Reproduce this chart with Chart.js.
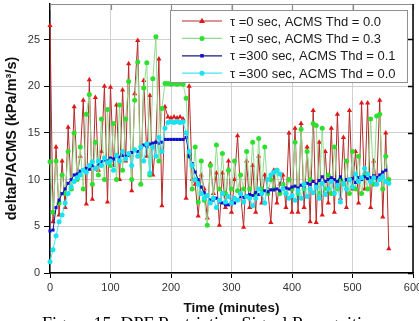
<!DOCTYPE html>
<html>
<head>
<meta charset="utf-8">
<script src="https://cdn.jsdelivr.net/npm/chart.js@4"></script>
<style>
  body { margin: 0; background: #fff; }
  #wrap { width: 419px; height: 321px; }
</style>
</head>
<body>
<div id="wrap"><canvas id="dpf-chart"></canvas></div>
<script>
// time axis (minutes), one sample every 5 min
let times = [];
for (let t = 0; t <= 560; t += 5) times.push(t);

// tau = 0 sec, ACMS Thd = 0.0
let red = [
    26.5, 5.5, 13.5, 6.2, 12.0, 7.0, 15.6, 9.0, 17.8, 10.5,
    12.5, 18.5, 7.4, 20.7, 7.9, 18.8, 11.0, 13.0, 20.0, 7.6,
    19.9, 11.5, 18.0, 10.0, 19.6, 12.0, 22.4, 8.8, 19.2, 24.9,
    9.6, 20.6, 12.5, 19.0, 10.5, 14.0, 22.9, 7.2, 17.8, 16.7,
    16.6, 16.7, 16.6, 16.7, 16.5, 8.0, 20.0, 10.0, 9.5, 6.1,
    10.5, 9.0, 5.9, 11.7, 8.5, 10.7, 5.1, 10.7, 7.0, 12.0,
    6.5, 10.0, 14.7, 8.5, 4.9, 12.0, 7.0, 11.5, 6.5, 12.5,
    7.5, 10.5, 9.0, 5.4, 11.0, 7.5, 9.5, 10.5, 7.0, 15.0,
    6.5, 15.5, 6.5, 16.0, 7.0, 13.5, 5.5, 17.4, 5.4, 14.0,
    6.2, 13.0, 7.5, 15.5, 6.5, 17.0, 8.0, 14.5, 7.0, 17.4,
    9.0, 13.0, 7.5, 18.2, 9.0, 18.2, 7.0, 12.0, 9.5, 18.5,
    6.0, 15.0, 2.6
];

// tau = 0 sec, ACMS Thd = 0.3
let green = [
    11.9, 6.5, 12.0, 7.5, 10.5, 8.5, 13.0, 9.0, 15.0, 10.0,
    13.5, 9.0, 17.0, 19.1, 9.5, 14.0, 10.5, 16.5, 10.0, 17.5,
    11.5, 16.0, 10.0, 18.0, 11.0, 16.5, 20.5, 10.0, 18.5, 22.6,
    9.5, 19.8, 22.5, 10.5, 20.8, 25.3, 12.0, 17.6, 20.3, 20.3,
    20.2, 20.3, 20.2, 20.3, 20.2, 18.7, 12.5, 9.0, 13.5, 7.6,
    12.0, 7.8, 5.1, 11.5, 8.0, 13.7, 9.0, 12.8, 8.5, 11.0,
    9.0, 12.0, 8.8, 10.5, 9.0, 13.0, 9.0, 14.0, 8.5, 14.4,
    9.0, 13.5, 8.5, 10.0, 9.0, 11.0, 8.5, 9.5, 8.5, 10.0,
    9.0, 14.0, 8.5, 15.4, 9.0, 13.0, 10.0, 16.0, 15.8, 8.5,
    15.5, 9.0, 10.5, 8.5, 13.5, 9.0, 10.0, 9.5, 12.0, 8.5,
    13.0, 9.0, 12.5, 8.5, 10.5, 9.0, 16.5, 9.5, 16.8, 17.0,
    9.0, 12.5, 10.0
];

// tau = 300 sec, ACMS Thd = 0.1
let blue = [
    4.5, 4.6, 7.0, 7.8, 8.5, 9.0, 9.6, 10.0, 10.5, 10.6,
    10.9, 11.0, 11.2, 11.1, 11.5, 11.3, 11.7, 11.9, 12.1, 12.0,
    12.3, 12.2, 12.5, 12.4, 12.6, 12.5, 12.6, 12.9, 13.1, 13.0,
    13.4, 13.7, 13.5, 13.8, 13.9, 14.0, 13.9, 14.0, 14.3, 14.3,
    14.3, 14.3, 14.3, 14.3, 14.3, 14.5, 12.5, 11.7, 10.8, 10.0,
    9.2, 8.6, 8.2, 7.8, 7.8, 8.0, 7.6, 7.5, 7.3, 7.3,
    7.6, 7.5, 7.8, 8.2, 8.1, 8.3, 8.4, 8.3, 8.6, 8.4,
    8.5, 8.8, 8.7, 8.9, 8.9, 9.0, 8.8, 9.0, 9.1, 9.0,
    9.2, 9.3, 9.1, 9.4, 9.3, 9.6, 9.5, 9.8, 9.5, 9.9,
    10.3, 9.8, 10.0, 10.2, 10.0, 9.8, 10.3, 9.6, 10.0, 9.9,
    10.1, 9.7, 10.2, 10.0, 10.3, 10.1, 10.2, 10.4, 10.2, 10.5,
    10.8, 11.0, null
];

// tau = 300 sec, ACMS Thd = 0.0
let cyan = [
    1.2, 2.5, 4.0, 5.5, 6.2, 7.5, 8.5, 9.2, 9.8, 10.2,
    10.5, 11.0, 10.8, 11.5, 11.9, 11.2, 12.0, 11.5, 12.3, 11.8,
    12.0, 11.0, 12.6, 12.0, 13.0, 12.2, 12.8, 11.5, 13.2, 12.5,
    13.5, 12.0, 13.8, 10.7, 13.5, 12.5, 14.5, 13.0, 15.5, 16.1,
    16.2, 16.1, 16.2, 16.1, 16.2, 15.0, 13.0, 11.5, 10.0, 9.5,
    8.5, 8.0, 8.3, 7.5, 8.0, 7.0, 7.8, 8.5, 7.6, 8.2,
    7.5, 8.0, 7.8, 8.5, 7.6, 8.2, 8.0, 7.2, 8.0, 9.0,
    8.5, 7.5, 10.0, 10.5, 10.8, 11.0, 10.6, 9.0, 8.5, 8.0,
    8.3, 7.8, 8.8, 8.0, 9.5, 8.2, 9.0, 8.6, 9.2, 8.0,
    9.6, 8.4, 9.0, 9.8, 8.5, 9.4, 7.6, 9.6, 9.0, 10.0,
    9.2, 10.6, 9.8, 10.2, 11.2, 10.6, 9.8, 10.2, 9.5, 10.0,
    10.3, 9.8, 9.6
];

let seriesLabels = [
    'τ =0 sec, ACMS Thd = 0.0',
    'τ =0 sec, ACMS Thd = 0.3',
    'τ =300 sec, ACMS Thd = 0.1',
    'τ =300 sec, ACMS Thd = 0.0'
];

function pts(vals) {
    return times.map((t, i) => ({ x: t, y: vals[i] }));
}

function drawMark(ctx, style, x, y, r, color) {
    ctx.fillStyle = color;
    ctx.beginPath();
    if (style === 'triangle') {
        ctx.moveTo(x, y - r * 1.1);
        ctx.lineTo(x + r, y + r * 0.7);
        ctx.lineTo(x - r, y + r * 0.7);
        ctx.closePath();
    } else if (style === 'rect') {
        ctx.rect(x - r * 0.8, y - r * 0.8, r * 1.6, r * 1.6);
    } else {
        ctx.arc(x, y, r, 0, Math.PI * 2);
    }
    ctx.fill();
}

// top / right frame, inner ticks, legend box and caption
let extras = {
    id: 'extras',
    afterDraw(chart) {
        let ctx = chart.ctx;
        let a = chart.chartArea;
        let xs = chart.scales.x, ys = chart.scales.y;
        ctx.save();

        // top border (grey) with inward ticks
        ctx.strokeStyle = '#8c8c8c';
        ctx.lineWidth = 1.2;
        ctx.beginPath();
        ctx.moveTo(a.left, a.top + 0.5);
        ctx.lineTo(a.right, a.top + 0.5);
        xs.ticks.forEach(tk => {
            let px = Math.round(xs.getPixelForValue(tk.value)) + 0.5;
            ctx.moveTo(px, a.top);
            ctx.lineTo(px, a.top + 6);
        });
        ctx.stroke();

        // right border (black) with inward ticks
        ctx.strokeStyle = '#000';
        ctx.lineWidth = 1.5;
        ctx.beginPath();
        ctx.moveTo(a.right, a.top);
        ctx.lineTo(a.right, a.bottom);
        ys.ticks.forEach(tk => {
            let py = Math.round(ys.getPixelForValue(tk.value)) + 0.5;
            ctx.moveTo(a.right, py);
            ctx.lineTo(a.right - 5, py);
        });
        ctx.stroke();

        // legend
        let x0 = 170, y0 = 10, w = 237, h = 72;
        ctx.fillStyle = '#fff';
        ctx.fillRect(x0, y0, w, h);
        ctx.strokeStyle = '#909090';
        ctx.lineWidth = 1;
        ctx.strokeRect(x0 + 0.5, y0 + 0.5, w, h);
        ctx.font = '13px "Liberation Sans", Arial, sans-serif';
        ctx.textBaseline = 'middle';
        ctx.textAlign = 'left';
        chart.data.datasets.forEach((ds, i) => {
            let y = 21 + i * 17.4;
            ctx.strokeStyle = ds.borderColor;
            ctx.lineWidth = 1.2;
            ctx.beginPath();
            ctx.moveTo(182, y);
            ctx.lineTo(222, y);
            ctx.stroke();
            drawMark(ctx, ds.pointStyle, 202, y, ds.pointRadius, ds.pointBackgroundColor);
            ctx.fillStyle = '#1a1a1a';
            ctx.fillText(ds.label, 230, y + 1);
        });

        // caption, cut off by the bottom edge
        ctx.font = '18px "Liberation Serif", "Times New Roman", serif';
        ctx.fillStyle = '#000';
        ctx.textBaseline = 'alphabetic';
        ctx.fillText('Figure 15. DPF Restriction Signal Recognition', 42, 330);
        ctx.restore();
    }
};

Chart.defaults.font.family = '"Liberation Sans", Arial, sans-serif';
Chart.defaults.color = '#222';

new Chart(document.getElementById('dpf-chart'), {
    type: 'line',
    data: {
        datasets: [{
            label: seriesLabels[0],
            data: pts(red),
            borderColor: '#b52a2a',
            borderWidth: 1,
            pointStyle: 'triangle',
            pointRadius: 3,
            pointBackgroundColor: '#e01818',
            pointBorderWidth: 0,
            order: 4
        }, {
            label: seriesLabels[1],
            data: pts(green),
            borderColor: '#8fdc8f',
            borderWidth: 1,
            pointStyle: 'circle',
            pointRadius: 2.5,
            pointBackgroundColor: '#2ee02e',
            pointBorderWidth: 0,
            order: 3
        }, {
            label: seriesLabels[2],
            data: pts(blue),
            borderColor: '#1a1a80',
            borderWidth: 1,
            pointStyle: 'rect',
            pointRadius: 2.2,
            pointBackgroundColor: '#1010d0',
            pointBorderWidth: 0,
            order: 2
        }, {
            label: seriesLabels[3],
            data: pts(cyan),
            borderColor: '#40e8f0',
            borderWidth: 1,
            pointStyle: 'circle',
            pointRadius: 2.5,
            pointBackgroundColor: '#19e3f0',
            pointBorderWidth: 0,
            order: 1
        }]
    },
    options: {
        responsive: true,
        maintainAspectRatio: false,
        animation: false,
        devicePixelRatio: 1,
        layout: { padding: { top: 3, right: 6, left: 0, bottom: 0 } },
        elements: { line: { tension: 0 } },
        datasets: { line: { clip: 5 } },
        plugins: {
            legend: { display: false },
            tooltip: { enabled: false }
        },
        scales: {
            x: {
                type: 'linear',
                min: 0,
                max: 600,
                ticks: { stepSize: 100, font: { size: 11 }, color: '#333', padding: 3, maxRotation: 0 },
                grid: { color: '#d0d0d0', tickColor: '#000', tickLength: 5 },
                border: { color: '#000', width: 1.5 },
                title: {
                    display: true,
                    text: 'Time (minutes)',
                    font: { size: 13.5, weight: 'bold' },
                    color: '#111',
                    padding: { top: 0, bottom: 5 }
                },
                afterFit: s => { s.height = 48; s.paddingLeft = 0; s.paddingRight = 0; }
            },
            y: {
                min: 0,
                max: 28.8,
                ticks: { stepSize: 5, font: { size: 11 }, color: '#333', padding: 4 },
                grid: { color: '#d0d0d0', tickColor: '#000', tickLength: 6 },
                border: { color: '#000', width: 1.5 },
                title: {
                    display: true,
                    text: 'deltaP/ACMS (kPa/m³/s)',
                    font: { size: 14.5, weight: 'bold' },
                    color: '#111',
                    padding: { top: 3, bottom: 0 }
                },
                afterBuildTicks: s => { s.ticks = s.ticks.filter(tk => tk.value % 5 === 0); },
                afterFit: s => { s.width = 50; s.paddingTop = 0; s.paddingBottom = 0; }
            }
        }
    },
    plugins: [extras]
});
</script>
</body>
</html>
